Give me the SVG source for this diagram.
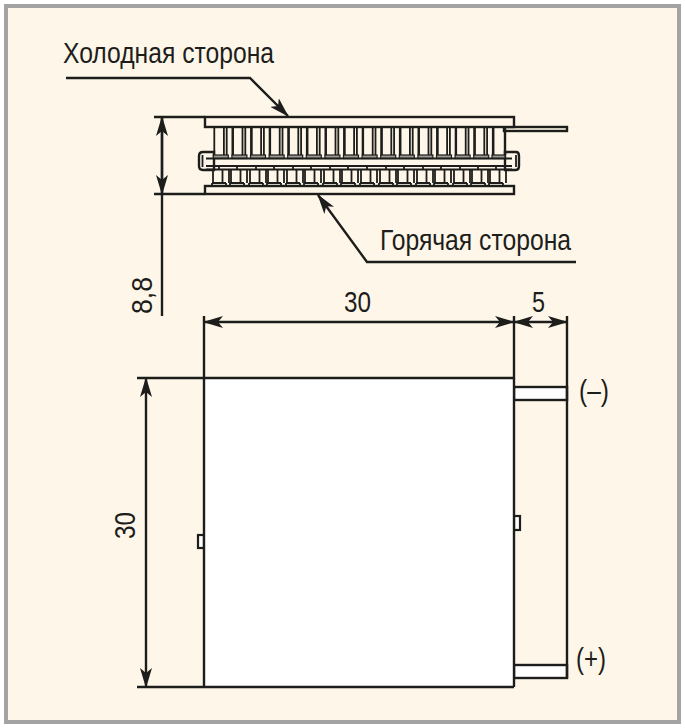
<svg xmlns="http://www.w3.org/2000/svg" width="685" height="728" viewBox="0 0 685 728">
<style>
.l{fill:none;stroke:#1d1d1b;stroke-width:2.4}
.t{fill:none;stroke:#1d1d1b;stroke-width:1.8}
.b{fill:#fff;stroke:#1d1d1b;stroke-width:2.2}
.c{fill:#fef7e9;stroke:#1d1d1b;stroke-width:2.4}
.p{fill:#9c9a94;stroke:#1d1d1b;stroke-width:1.2}
text{font-family:"Liberation Sans",Arial,sans-serif;fill:#1d1d1b;font-size:30px}
</style>
<defs>
<marker id="a" markerWidth="20" markerHeight="12" refX="19" refY="6" orient="auto-start-reverse" markerUnits="userSpaceOnUse"><path d="M0 0L20 6L0 12L5 6Z" fill="#1d1d1b"/></marker>
<g id="u"><path class="t" d="M0 127V155M9.6 127V155M12.4 127V155"/><path d="M18.4 127V155" fill="none" stroke="#1d1d1b" stroke-width="2.4"/><rect class="p" x="-1" y="155" width="15" height="3.5"/></g>
<g id="d"><path class="t" d="M0 170V183M9.500 170V183M16 170V183"/><path class="t" d="M-1 183H13M-1 186V183M13 186V183M6 166V170"/></g>
</defs>
<rect id="frame" x="6" y="6" width="673" height="716" fill="#fef7e9" stroke="#a3a3a3" stroke-width="4"/>
<g id="hot-cold-module">
<path class="c" d="M199 156Q199 152 203 152H214V170H203Q199 170 199 166ZM505 152H516Q519 152 519 156V166Q519 170 516 170H505Z"/>
<path class="t" d="M202.500 155V167M516 155V167"/>
<rect class="c" x="504" y="127" width="63" height="4"/>
<use href="#u" x="214.3"/><use href="#u" x="232.9"/><use href="#u" x="251.5"/><use href="#u" x="270.1"/><use href="#u" x="288.7"/><use href="#u" x="307.3"/><use href="#u" x="325.9"/><use href="#u" x="344.5"/><use href="#u" x="363.1"/><use href="#u" x="381.7"/><use href="#u" x="400.3"/><use href="#u" x="418.9"/><use href="#u" x="437.5"/><use href="#u" x="456.100"/><use href="#u" x="474.7"/>
<path class="t" d="M493.300 127V155"/><rect class="p" x="492" y="155" width="13" height="3.5"/>
<path class="l" d="M505 127V155"/>
<path class="t" d="M206 158.500H512M206 166H512M206 169.500H512"/>
<use href="#d" x="213"/><use href="#d" x="231"/><use href="#d" x="250"/><use href="#d" x="268"/><use href="#d" x="287"/><use href="#d" x="305"/><use href="#d" x="324"/><use href="#d" x="342"/><use href="#d" x="361"/><use href="#d" x="380"/><use href="#d" x="398"/><use href="#d" x="417"/><use href="#d" x="435"/><use href="#d" x="454"/><use href="#d" x="472"/><use href="#d" x="490"/>
<rect class="c" x="205" y="117" width="309" height="10"/>
<rect class="c" x="205" y="186" width="309" height="8"/>
</g>
<g id="module-plan">
<rect class="c" x="514" y="387" width="53" height="13" style="fill:#fff"/>
<rect class="c" x="514" y="665" width="53" height="13" style="fill:#fff"/>
<rect class="b" x="514" y="516" width="6" height="14"/>
<rect class="b" x="198" y="535" width="6" height="13"/>
<rect x="204" y="378" width="310" height="309" fill="#fff"/>
</g>
<g id="connectors">
<path class="l" d="M154 117H205M154 194H205M137 378H514M137 687H514M204 316V687M514 316V687M567 316V678"/>
<path class="l" d="M162 117V316"/>
<path class="l" d="M162 117V194" marker-start="url(#a)" marker-end="url(#a)"/>
<path class="l" d="M204 322H514" marker-start="url(#a)" marker-end="url(#a)"/>
<path class="l" d="M514 322H567" marker-start="url(#a)" marker-end="url(#a)"/>
<path class="l" d="M146 378V687" marker-start="url(#a)" marker-end="url(#a)"/>
<path class="l" d="M66 78H250L288 116" marker-end="url(#a)"/>
<path class="l" d="M576 262H367L318 195" marker-end="url(#a)"/>
</g>
<g id="labels">
<text x="63" y="63" textLength="211" lengthAdjust="spacingAndGlyphs">Холодная сторона</text>
<text x="380" y="250" textLength="191" lengthAdjust="spacingAndGlyphs">Горячая сторона</text>
<text x="344" y="312" textLength="27" lengthAdjust="spacingAndGlyphs">30</text>
<text x="532" y="312" textLength="13" lengthAdjust="spacingAndGlyphs">5</text>
<text transform="translate(152 314) rotate(-90)" textLength="37" lengthAdjust="spacingAndGlyphs">8,8</text>
<text transform="translate(135 539) rotate(-90)" textLength="27" lengthAdjust="spacingAndGlyphs">30</text>
<text x="579" y="401" textLength="30" lengthAdjust="spacingAndGlyphs">(–)</text>
<text x="576" y="669" textLength="30" lengthAdjust="spacingAndGlyphs">(+)</text>
</g>
</svg>
